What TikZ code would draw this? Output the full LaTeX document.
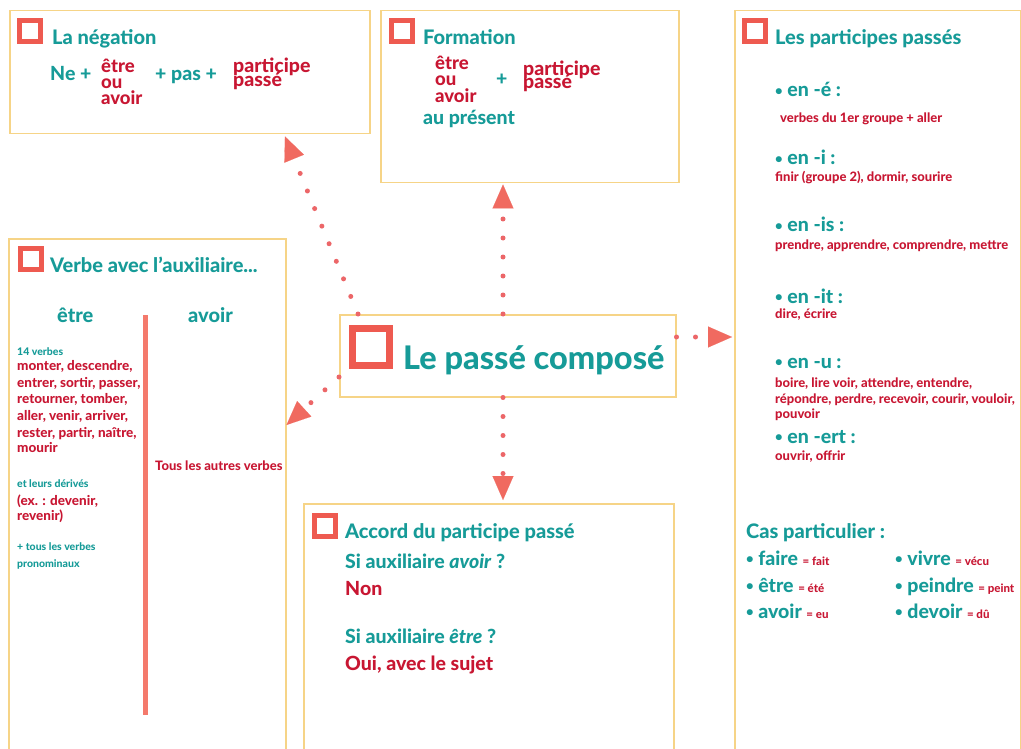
\documentclass[tikz,border=0pt]{standalone}
\usepackage{fontspec}
\IfFontExistsTF{Lato Heavy}{%
  \IfFontExistsTF{Lato Heavy Italic}{%
    \setmainfont{Lato}[BoldFont={Lato Heavy},BoldItalicFont={Lato Heavy Italic}]}{%
    \setmainfont{Lato}[BoldFont={Lato Heavy}]}}{%
  \setmainfont{Lato}}
\usetikzlibrary{arrows.meta}
\definecolor{tealc}{RGB}{22,155,152}
\definecolor{redc}{RGB}{200,22,50}
\definecolor{sqc}{RGB}{238,90,80}
\definecolor{dotc}{RGB}{236,102,104}
\definecolor{arrc}{RGB}{240,106,96}
\definecolor{bordc}{RGB}{246,212,135}
\definecolor{barc}{RGB}{244,122,108}
\newcommand\smred{\color{redc}\fontsize{11.5}{11.5}\selectfont}
\newcommand\bul{\raisebox{1.2pt}{\fontsize{13}{13}\selectfont•}}
\begin{document}
\begin{tikzpicture}[x=1pt,y=-1pt,
  box/.style={draw=bordc, line width=1.5pt, fill=white, inner sep=0pt, anchor=north west},
  sq/.style={draw=sqc, line width=5pt, minimum size=21pt, inner sep=0pt},
  bigsq/.style={draw=sqc, line width=7pt, minimum size=37pt, inner sep=0pt},
  ttl/.style={text=tealc, font=\fontsize{20}{20}\selectfont\bfseries, anchor=base west, inner sep=0pt},
  tl/.style={text=tealc, font=\fontsize{19.5}{19.5}\selectfont\bfseries, anchor=base west, inner sep=0pt},
  rl/.style={text=redc, font=\fontsize{19.5}{19.5}\selectfont\bfseries, anchor=base west, inner sep=0pt},
  rm/.style={text=redc, font=\fontsize{18.5}{18.5}\selectfont\bfseries, anchor=base west, inner sep=0pt},
  rv/.style={text=redc, font=\fontsize{13.5}{13.5}\selectfont\bfseries, anchor=base west, inner sep=0pt},
  rs/.style={text=redc, font=\fontsize{13}{13}\selectfont\bfseries, anchor=base west, inner sep=0pt},
  ts/.style={text=tealc, font=\fontsize{10.5}{10.5}\selectfont\bfseries, anchor=base west, inner sep=0pt},
  conn/.style={draw=dotc, line width=5pt, line cap=round, dash pattern=on 0pt off 19pt,
    -{Triangle[length=24pt,width=21pt,line width=0.1pt,color=arrc,fill=arrc]}}
]
\useasboundingbox (0,0) rectangle (1021,749);
\clip (0,0) rectangle (1021,749);
\fill[white] (0,0) rectangle (1021,749);

% boxes
\node[box, minimum width=360pt, minimum height=123pt] (neg) at (9,10) {};
\node[box, minimum width=298pt, minimum height=172pt] (form) at (380,10) {};
\node[box, minimum width=286pt, minimum height=760pt] (part) at (734,10) {};
\node[box, minimum width=277pt, minimum height=530pt] (verb) at (8,238) {};
\node[box, minimum width=370pt, minimum height=260pt] (acc) at (303,503) {};
\node[box, minimum width=336pt, minimum height=82pt] (c) at (339,314) {};

% connectors
\draw[conn] ([xshift=19pt]c.north west) -- ([xshift=276pt,yshift=-2pt]neg.south west);
\draw[conn] ([xshift=164pt]c.north west) -- ([xshift=123pt,yshift=-1pt]form.south west);
\draw[conn] ([yshift=-23pt]c.north east) -- ([xshift=-2pt,yshift=-327pt]part.north west);
\draw[conn] ([yshift=-63pt]c.north west) -- ([yshift=-187pt]verb.north east);
\draw[conn] ([xshift=164pt]c.south west) -- ([xshift=200pt,yshift=3pt]acc.north west);

% central
\node[bigsq] (csq) at (371,346.5) {};
\node[text=tealc, font=\fontsize{32.5}{32.5}\selectfont\bfseries, anchor=base west, inner sep=0pt] (ctitle) at (403,369) {Le passé composé};

% negation
\node[sq] (negsq) at (30,31.5) {};
\node[ttl] (negt) at (52,45) {La négation};
\node[tl] (ne) at (50,81) {Ne +};
\node[rm] (neg1) at (101,73) {être};
\node[rm] (neg2) at (101,89) {ou};
\node[rm] (neg3) at (101,105) {avoir};
\node[tl] (pas) at (155,81) {+ pas +};
\node[rl] (negp1) at (233,73) {participe};
\node[rl] (negp2) at (233,87) {passé};

% formation
\node[sq] (formsq) at (401.5,31.5) {};
\node[ttl] (formt) at (423,45) {Formation};
\node[rm] (f1) at (435,70) {être};
\node[rm] (f2) at (435,86) {ou};
\node[rm] (f3) at (435,103) {avoir};
\node[tl] (fplus) at (496,86) {+};
\node[rl] (fp1) at (523,76) {participe};
\node[rl] (fp2) at (523,89) {passé};
\node[tl] (fpres) at (423,125) {au présent};

% participes passes
\node[sq] (partsq) at (755,31.5) {};
\node[ttl] (partt) at (775,45) {Les participes passés};
\node[tl] (e1) at (775,97) {\bul\ en -é :};
\node[rs] (e1a) at (780,123) {verbes du 1er groupe + aller};
\node[tl] (e2) at (775,165) {\bul\ en -i :};
\node[rs] (e2a) at (775,182) {finir (groupe 2), dormir, sourire};
\node[tl] (e3) at (775,232) {\bul\ en -is :};
\node[rs] (e3a) at (775,250) {prendre, apprendre, comprendre, mettre};
\node[tl] (e4) at (775,303) {\bul\ en -it :};
\node[rs] (e4a) at (775,318) {dire, écrire};
\node[tl] (e5) at (775,368) {\bul\ en -u :};
\node[rs] (e5a) at (775,387) {boire, lire voir, attendre, entendre,};
\node[rs] (e5b) at (775,403) {répondre, perdre, recevoir, courir, vouloir,};
\node[rs] (e5c) at (775,418) {pouvoir};
\node[tl] (e6) at (775,443) {\bul\ en -ert :};
\node[rs] (e6a) at (775,460) {ouvrir, offrir};
\node[ttl] (cas) at (746,538) {Cas particulier :};
\node[tl] (c1) at (746,565) {\bul\ faire {\smred = fait}};
\node[tl] (c2) at (746,592) {\bul\ être {\smred = été}};
\node[tl] (c3) at (746,618) {\bul\ avoir {\smred = eu}};
\node[tl] (c4) at (895,565) {\bul\ vivre {\smred = vécu}};
\node[tl] (c5) at (895,592) {\bul\ peindre {\smred = peint}};
\node[tl] (c6) at (895,618) {\bul\ devoir {\smred = dû}};

% verbe avec auxiliaire
\node[sq] (verbsq) at (30.5,259) {};
\node[ttl] (verbt) at (50,272) {Verbe avec l’auxiliaire...};
\node[ttl] (vetre) at (57,322) {être};
\node[ttl] (vavoir) at (188,322) {avoir};
\draw[barc, line width=5pt] (145,315) -- (145,715);
\node[ts] (v14) at (17,355) {14 verbes};
\node[rv] (v1) at (17,370) {monter, descendre,};
\node[rv] (v2) at (17,387) {entrer, sortir, passer,};
\node[rv] (v3) at (17,403) {retourner, tomber,};
\node[rv] (v4) at (17,420) {aller, venir, arriver,};
\node[rv] (v5) at (17,437) {rester, partir, naître,};
\node[rv] (v6) at (17,452) {mourir};
\node[rs] (vtous) at (155,470) {Tous les autres verbes};
\node[ts] (vder) at (17,487) {et leurs dérivés};
\node[rv] (vex1) at (17,505) {(ex. : devenir,};
\node[rv] (vex2) at (17,520) {revenir)};
\node[ts] (vpr1) at (17,550) {+ tous les verbes};
\node[ts] (vpr2) at (17,567) {pronominaux};

% accord
\node[sq] (accsq) at (325,525.5) {};
\node[ttl] (acct) at (345,538) {Accord du participe passé};
\node[tl] (a1) at (345,568) {Si auxiliaire \textit{avoir} ?};
\node[rl] (a2) at (345,595) {Non};
\node[tl] (a3) at (345,643) {Si auxiliaire \textit{être} ?};
\node[rl] (a4) at (345,670) {Oui, avec le sujet};
\end{tikzpicture}
\end{document}
